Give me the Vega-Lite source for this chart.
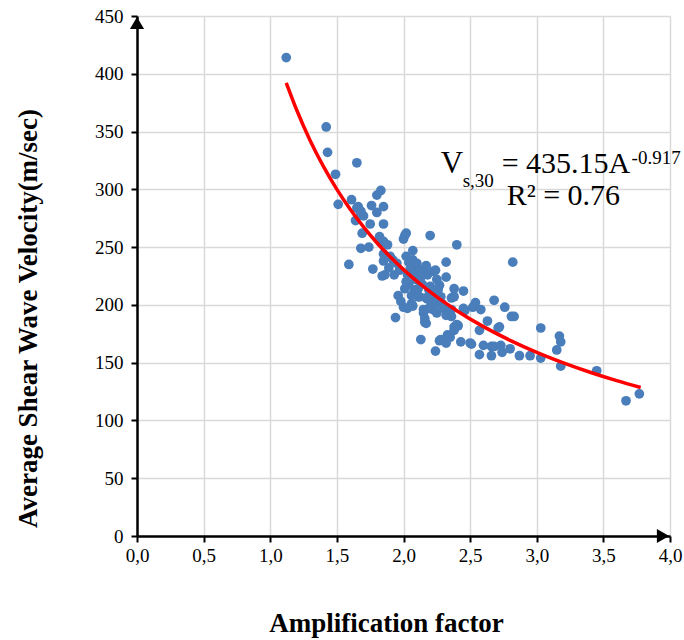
{
  "$schema": "https://vega.github.io/schema/vega-lite/v6.json",
  "width": 533,
  "height": 520,
  "autosize": "none",
  "padding": {"left": 137, "top": 16, "right": 14, "bottom": 104},
  "background": "white",
  "config": {
    "view": {"stroke": null},
    "font": "Liberation Serif",
    "axis": {
      "labelFont": "Liberation Serif", "labelFontSize": 19, "labelColor": "black",
      "titleFont": "Liberation Serif", "titleFontSize": 27, "titleFontWeight": "bold", "titleColor": "black",
      "grid": true, "gridColor": "#d9d9d9", "gridWidth": 1.5,
      "domainColor": "black", "domainWidth": 2.5,
      "tickColor": "black", "tickWidth": 2, "tickSize": 6
    }
  },
  "datasets": {
    "pts": [
      {"amp": 1.12, "vs": 414}, {"amp": 1.42, "vs": 354}, {"amp": 1.43, "vs": 332}, {"amp": 1.49, "vs": 313},
      {"amp": 1.51, "vs": 287}, {"amp": 1.61, "vs": 291}, {"amp": 1.65, "vs": 323}, {"amp": 1.59, "vs": 235},
      {"amp": 1.64, "vs": 273}, {"amp": 1.65, "vs": 284}, {"amp": 1.67, "vs": 282}, {"amp": 1.68, "vs": 278},
      {"amp": 1.68, "vs": 281}, {"amp": 1.66, "vs": 285}, {"amp": 1.70, "vs": 277}, {"amp": 1.69, "vs": 262},
      {"amp": 1.68, "vs": 249}, {"amp": 1.74, "vs": 250}, {"amp": 1.75, "vs": 270}, {"amp": 1.76, "vs": 286},
      {"amp": 1.77, "vs": 231}, {"amp": 1.80, "vs": 280}, {"amp": 1.80, "vs": 295}, {"amp": 1.83, "vs": 299},
      {"amp": 1.85, "vs": 285}, {"amp": 1.85, "vs": 270}, {"amp": 1.82, "vs": 259}, {"amp": 1.83, "vs": 254},
      {"amp": 1.85, "vs": 255}, {"amp": 1.85, "vs": 244}, {"amp": 1.85, "vs": 238}, {"amp": 1.84, "vs": 225},
      {"amp": 1.86, "vs": 226}, {"amp": 1.88, "vs": 252}, {"amp": 1.89, "vs": 232}, {"amp": 1.90, "vs": 242},
      {"amp": 1.92, "vs": 239}, {"amp": 1.93, "vs": 226}, {"amp": 1.94, "vs": 189}, {"amp": 1.96, "vs": 208},
      {"amp": 2.00, "vs": 198}, {"amp": 2.01, "vs": 214}, {"amp": 2.00, "vs": 257}, {"amp": 2.02, "vs": 262},
      {"amp": 2.01, "vs": 260}, {"amp": 2.02, "vs": 242}, {"amp": 2.03, "vs": 226}, {"amp": 2.03, "vs": 197},
      {"amp": 2.04, "vs": 237}, {"amp": 2.06, "vs": 201}, {"amp": 2.06, "vs": 208}, {"amp": 2.07, "vs": 247},
      {"amp": 2.07, "vs": 239}, {"amp": 2.07, "vs": 199}, {"amp": 2.08, "vs": 229}, {"amp": 2.10, "vs": 236},
      {"amp": 2.11, "vs": 207}, {"amp": 2.12, "vs": 207}, {"amp": 2.13, "vs": 224}, {"amp": 2.13, "vs": 170},
      {"amp": 2.15, "vs": 193}, {"amp": 2.15, "vs": 196}, {"amp": 2.16, "vs": 185}, {"amp": 2.16, "vs": 188},
      {"amp": 2.17, "vs": 184}, {"amp": 2.17, "vs": 206}, {"amp": 2.17, "vs": 234}, {"amp": 2.18, "vs": 205},
      {"amp": 2.20, "vs": 260}, {"amp": 2.20, "vs": 216}, {"amp": 2.21, "vs": 200}, {"amp": 2.22, "vs": 229},
      {"amp": 2.23, "vs": 209}, {"amp": 2.24, "vs": 160}, {"amp": 2.25, "vs": 222}, {"amp": 2.25, "vs": 201},
      {"amp": 2.25, "vs": 193}, {"amp": 2.25, "vs": 210}, {"amp": 2.27, "vs": 217}, {"amp": 2.27, "vs": 169},
      {"amp": 2.28, "vs": 170}, {"amp": 2.30, "vs": 197}, {"amp": 2.32, "vs": 237}, {"amp": 2.32, "vs": 224},
      {"amp": 2.32, "vs": 191}, {"amp": 2.32, "vs": 167}, {"amp": 2.33, "vs": 174}, {"amp": 2.35, "vs": 172},
      {"amp": 2.36, "vs": 196}, {"amp": 2.36, "vs": 190}, {"amp": 2.36, "vs": 206}, {"amp": 2.38, "vs": 214},
      {"amp": 2.38, "vs": 207}, {"amp": 2.38, "vs": 181}, {"amp": 2.38, "vs": 178}, {"amp": 2.40, "vs": 252},
      {"amp": 2.40, "vs": 183}, {"amp": 2.41, "vs": 182}, {"amp": 2.43, "vs": 168}, {"amp": 2.45, "vs": 212},
      {"amp": 2.45, "vs": 197}, {"amp": 2.46, "vs": 195}, {"amp": 2.50, "vs": 167}, {"amp": 2.51, "vs": 166},
      {"amp": 2.52, "vs": 198}, {"amp": 2.54, "vs": 202}, {"amp": 2.57, "vs": 178}, {"amp": 2.57, "vs": 157},
      {"amp": 2.58, "vs": 196}, {"amp": 2.60, "vs": 165}, {"amp": 2.63, "vs": 186}, {"amp": 2.66, "vs": 164},
      {"amp": 2.66, "vs": 156}, {"amp": 2.68, "vs": 164}, {"amp": 2.68, "vs": 204}, {"amp": 2.71, "vs": 180},
      {"amp": 2.72, "vs": 181}, {"amp": 2.73, "vs": 165}, {"amp": 2.74, "vs": 159}, {"amp": 2.76, "vs": 198},
      {"amp": 2.80, "vs": 162}, {"amp": 2.81, "vs": 190}, {"amp": 2.82, "vs": 237}, {"amp": 2.83, "vs": 190},
      {"amp": 2.87, "vs": 156}, {"amp": 2.95, "vs": 156}, {"amp": 3.03, "vs": 180}, {"amp": 3.03, "vs": 154},
      {"amp": 3.15, "vs": 161}, {"amp": 3.17, "vs": 173}, {"amp": 3.18, "vs": 168}, {"amp": 3.18, "vs": 147},
      {"amp": 3.45, "vs": 143}, {"amp": 3.67, "vs": 117}, {"amp": 3.77, "vs": 123},
      {"amp": 2.05, "vs": 231}, {"amp": 2.09, "vs": 222}, {"amp": 2.14, "vs": 218}, {"amp": 2.18, "vs": 226},
      {"amp": 2.19, "vs": 213}, {"amp": 2.11, "vs": 214}, {"amp": 2.22, "vs": 205}, {"amp": 2.28, "vs": 207},
      {"amp": 2.26, "vs": 213}, {"amp": 2.04, "vs": 218}, {"amp": 2.15, "vs": 228}, {"amp": 2.24, "vs": 230},
      {"amp": 2.08, "vs": 213}, {"amp": 2.19, "vs": 197}, {"amp": 2.29, "vs": 201}, {"amp": 2.12, "vs": 231},
      {"amp": 1.98, "vs": 203}, {"amp": 2.22, "vs": 196}, {"amp": 2.02, "vs": 220}, {"amp": 1.97, "vs": 230},
      {"amp": 1.95, "vs": 236}
    ],
    "fit": [
      {"amp": 1.12, "vs": 392.2}, {"amp": 1.2, "vs": 368.2}, {"amp": 1.3, "vs": 342.1}, {"amp": 1.4, "vs": 319.6},
      {"amp": 1.5, "vs": 300.0}, {"amp": 1.6, "vs": 282.8}, {"amp": 1.7, "vs": 267.5}, {"amp": 1.8, "vs": 253.8},
      {"amp": 1.9, "vs": 241.6}, {"amp": 2.0, "vs": 230.5}, {"amp": 2.2, "vs": 211.2}, {"amp": 2.4, "vs": 195.0},
      {"amp": 2.6, "vs": 181.2}, {"amp": 2.8, "vs": 169.3}, {"amp": 3.0, "vs": 158.9}, {"amp": 3.2, "vs": 149.8},
      {"amp": 3.4, "vs": 141.7}, {"amp": 3.6, "vs": 134.4}, {"amp": 3.78, "vs": 128.5}
    ]
  },
  "layer": [
    {
      "data": {"name": "pts"},
      "mark": {"type": "point", "filled": true, "shape": "circle", "size": 95, "color": "#4a7ebb", "opacity": 1},
      "encoding": {
        "x": {
          "field": "amp", "type": "quantitative",
          "scale": {"domain": [0, 4], "nice": false, "zero": false},
          "axis": {
            "title": "Amplification factor",
            "values": [0, 0.5, 1, 1.5, 2, 2.5, 3, 3.5, 4],
            "labelExpr": "replace(format(datum.value, '.1f'), '.', ',')",
            "labelPadding": 4, "labelFlush": false, "labelOverlap": false,
            "titleX": 249, "titleY": 95, "titleAlign": "center", "titleBaseline": "alphabetic"
          }
        },
        "y": {
          "field": "vs", "type": "quantitative",
          "scale": {"domain": [0, 450], "nice": false},
          "axis": {
            "title": "Average Shear Wave Velocity(m/sec)",
            "values": [0, 50, 100, 150, 200, 250, 300, 350, 400, 450],
            "labelPadding": 8, "labelFlush": false, "labelOverlap": false,
            "titleX": -109, "titleY": 302, "titleAngle": 270, "titleAlign": "center", "titleBaseline": "middle"
          }
        }
      }
    },
    {
      "data": {"name": "fit"},
      "mark": {"type": "line", "color": "#ff0000", "strokeWidth": 3.5, "interpolate": "monotone"},
      "encoding": {
        "x": {"field": "amp", "type": "quantitative"},
        "y": {"field": "vs", "type": "quantitative"}
      }
    },
    {
      "data": {"values": [{"t": "V"}]},
      "mark": {"type": "text", "font": "Liberation Serif", "fontSize": 31, "color": "black", "align": "left", "baseline": "alphabetic"},
      "encoding": {"x": {"datum": 2.28, "type": "quantitative"}, "y": {"datum": 314, "type": "quantitative"}, "text": {"field": "t"}}
    },
    {
      "data": {"values": [{"t": "s,30"}]},
      "mark": {"type": "text", "font": "Liberation Serif", "fontSize": 19, "color": "black", "align": "left", "baseline": "alphabetic"},
      "encoding": {"x": {"datum": 2.444, "type": "quantitative"}, "y": {"datum": 302, "type": "quantitative"}, "text": {"field": "t"}}
    },
    {
      "data": {"values": [{"t": "= 435.15A"}]},
      "mark": {"type": "text", "font": "Liberation Serif", "fontSize": 30, "color": "black", "align": "left", "baseline": "alphabetic"},
      "encoding": {"x": {"datum": 2.737, "type": "quantitative"}, "y": {"datum": 314, "type": "quantitative"}, "text": {"field": "t"}}
    },
    {
      "data": {"values": [{"t": "-0.917"}]},
      "mark": {"type": "text", "font": "Liberation Serif", "fontSize": 19, "color": "black", "align": "left", "baseline": "alphabetic"},
      "encoding": {"x": {"datum": 3.712, "type": "quantitative"}, "y": {"datum": 321.8, "type": "quantitative"}, "text": {"field": "t"}}
    },
    {
      "data": {"values": [{"t": "R² = 0.76"}]},
      "mark": {"type": "text", "font": "Liberation Serif", "fontSize": 30, "color": "black", "align": "left", "baseline": "alphabetic"},
      "encoding": {"x": {"datum": 2.774, "type": "quantitative"}, "y": {"datum": 286.3, "type": "quantitative"}, "text": {"field": "t"}}
    },
    {
      "data": {"values": [{"k": "yarrow"}]},
      "mark": {"type": "point", "shape": "triangle-up", "filled": true, "color": "black", "opacity": 1, "size": 200, "yOffset": 7},
      "encoding": {"x": {"datum": 0, "type": "quantitative"}, "y": {"datum": 450, "type": "quantitative"}}
    },
    {
      "data": {"values": [{"k": "xarrow"}]},
      "mark": {"type": "point", "shape": "triangle-right", "filled": true, "color": "black", "opacity": 1, "size": 200, "xOffset": -7},
      "encoding": {"x": {"datum": 4, "type": "quantitative"}, "y": {"datum": 0, "type": "quantitative"}}
    }
  ]
}
